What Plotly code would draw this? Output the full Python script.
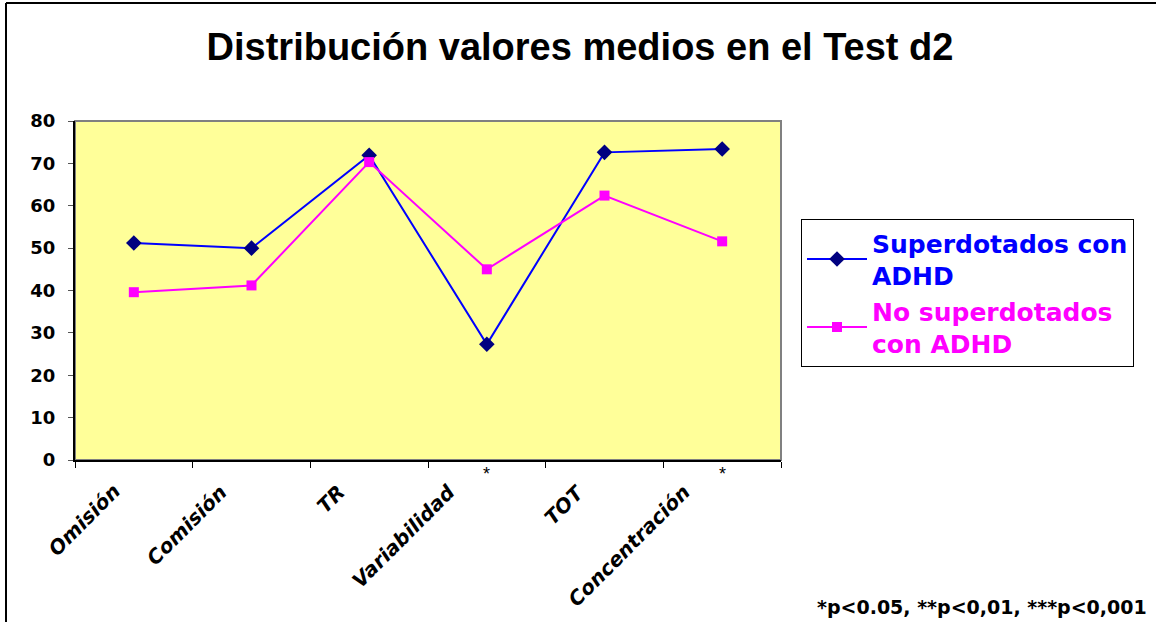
import plotly.graph_objects as go

categories = ["Omisión", "Comisión", "TR", "Variabilidad", "TOT", "Concentración"]
superdotados = [51.2, 50.0, 71.9, 27.3, 72.6, 73.4]
no_superdotados = [39.6, 41.2, 70.3, 45.0, 62.4, 51.6]
significant = ["Variabilidad", "Concentración"]
y_ticks = [0, 10, 20, 30, 40, 50, 60, 70, 80]

W, H = 1156, 622
# plot area in screen pixels
SL, SR, ST, SB = 75, 781, 121, 460

FONT = "Arial, Liberation Sans, sans-serif"
WIDE = "DejaVu Sans, Verdana, sans-serif"


def px_x(p):
    """screen x pixel -> paper coordinate"""
    return (p - SL) / (SR - SL)


def px_y(p):
    """screen y pixel -> paper coordinate"""
    return (SB - p) / (SB - ST)


fig = go.Figure()
fig.add_trace(go.Scatter(
    x=categories, y=superdotados, mode="lines+markers",
    name="<span style='color:#0000FF'>Superdotados con<br>ADHD</span>",
    line=dict(color="#0000FF", width=2),
    marker=dict(symbol="diamond", size=12, color="#000080"),
))
fig.add_trace(go.Scatter(
    x=categories, y=no_superdotados, mode="lines+markers",
    name="<span style='color:#FF00FF'>No superdotados<br>con ADHD</span>",
    line=dict(color="#FF00FF", width=2),
    marker=dict(symbol="square", size=10, color="#FF00FF"),
))

# Rotated category labels, ending just left of each category
label_shift = [-6, -17, -17, -24, -13, -25]
for cat, sh in zip(categories, label_shift):
    fig.add_annotation(
        x=cat, xref="x", y=px_y(477), yref="paper", text=cat, showarrow=False,
        textangle=-45, xanchor="right", yanchor="top", xshift=sh,
        font=dict(family=WIDE, size=20, color="black", style="italic", weight="bold"),
    )
for cat in significant:
    fig.add_annotation(
        x=cat, xref="x", y=px_y(462), yref="paper", text="*", showarrow=False,
        xanchor="center", yanchor="top",
        font=dict(family=FONT, size=18, color="black"),
    )

fig.add_annotation(
    x=px_x(1149), xref="paper", y=px_y(607), yref="paper",
    text="<b>*p<0.05, **p<0,01, ***p<0,001</b>", showarrow=False,
    xanchor="right", yanchor="middle",
    font=dict(family=WIDE, size=19, color="black"),
)

# Outer chart frame (top and left visible)
fig.add_shape(type="line", xref="paper", yref="paper",
              x0=px_x(6), x1=px_x(1170), y0=px_y(3), y1=px_y(3),
              line=dict(color="black", width=2))
fig.add_shape(type="line", xref="paper", yref="paper",
              x0=px_x(6), x1=px_x(6), y0=px_y(3), y1=px_y(640),
              line=dict(color="black", width=2))
# Plot area border (gray top/right)
fig.add_shape(type="rect", xref="paper", yref="paper", x0=0, x1=1, y0=0, y1=1,
              line=dict(color="#808080", width=2), layer="below")

fig.update_layout(
    width=W, height=H,
    margin=dict(l=SL, r=W - SR, t=ST, b=H - SB, pad=0),
    paper_bgcolor="white", plot_bgcolor="#FFFF99",
    title=dict(text="<b>Distribución valores medios en el Test d2</b>",
               x=px_x(580), xanchor="center", xref="paper",
               y=1 - 47 / H, yanchor="middle",
               font=dict(family=FONT, size=38, color="black")),
    showlegend=True,
    legend=dict(
        x=px_x(801), y=px_y(219), xanchor="left", yanchor="top",
        bordercolor="black", borderwidth=1, bgcolor="white",
        font=dict(family=WIDE, size=25, weight="bold", color="black"),
        itemwidth=60, tracegroupgap=0,
    ),
    xaxis=dict(
        type="category", showticklabels=False, tickson="boundaries",
        ticks="outside", ticklen=6, tickcolor="black",
        showline=True, linecolor="black", linewidth=2, showgrid=False,
        range=[-0.5, 5.5], zeroline=False,
    ),
    yaxis=dict(
        range=[0, 80], tickvals=y_ticks, ticks="outside", ticklen=5,
        tickcolor="#555555", showline=True, linecolor="black", linewidth=2,
        showgrid=False, zeroline=False, ticklabelstandoff=9,
        tickfont=dict(family=WIDE, size=18, color="black", weight="bold"),
    ),
)

fig.write_html("out.html", config={"displayModeBar": False},
               post_script="document.body.style.margin='0';")
